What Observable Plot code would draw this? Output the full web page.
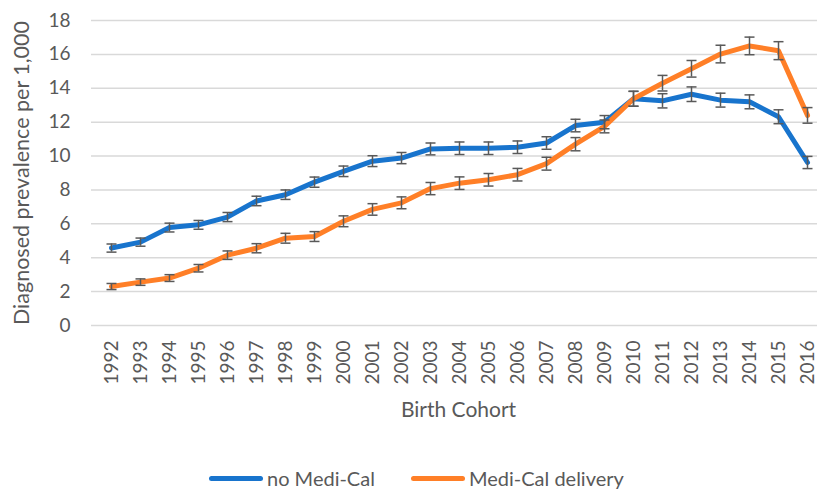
<!DOCTYPE html>
<html>
<head>
<meta charset="utf-8">
<script src="https://cdn.jsdelivr.net/npm/d3@7"></script>
<script src="https://cdn.jsdelivr.net/npm/@observablehq/plot@0.6"></script>
<style>
  html, body { margin: 0; padding: 0; background: #fff; overflow: hidden; }
  body { width: 817px; height: 490px; position: relative; font-family: Lato, "Open Sans", sans-serif; }
  #legend { position: absolute; left: 0; top: 463px; width: 817px; height: 27px; font-size: 20px; color: #595959; }
  .item { position: absolute; top: 0; display: flex; align-items: center; height: 30px; }
  .swatch { width: 54px; height: 5px; border-radius: 3px; margin-right: 4px; }
</style>
</head>
<body>
<div id="chart"></div>
<div id="legend"></div>
<script>
const years = ["1992","1993","1994","1995","1996","1997","1998","1999","2000","2001","2002","2003","2004","2005","2006","2007","2008","2009","2010","2011","2012","2013","2014","2015","2016"];
const seriesNames = ["no Medi-Cal", "Medi-Cal delivery"];
const noMediCal = [4.57, 4.92, 5.78, 5.94, 6.4, 7.35, 7.72, 8.46, 9.1, 9.7, 9.88, 10.42, 10.46, 10.46, 10.52, 10.77, 11.8, 12.0, 13.38, 13.26, 13.65, 13.3, 13.2, 12.32, 9.62];
const mediCal = [2.3, 2.56, 2.8, 3.38, 4.15, 4.56, 5.15, 5.25, 6.15, 6.85, 7.24, 8.08, 8.4, 8.6, 8.9, 9.55, 10.7, 11.75, 13.38, 14.3, 15.15, 16.02, 16.5, 16.22, 12.4];
const noMediCalErr = [0.24, 0.24, 0.26, 0.26, 0.27, 0.28, 0.28, 0.3, 0.31, 0.32, 0.33, 0.35, 0.37, 0.37, 0.37, 0.37, 0.37, 0.39, 0.44, 0.42, 0.43, 0.41, 0.41, 0.41, 0.36];
const mediCalErr = [0.18, 0.19, 0.2, 0.22, 0.25, 0.27, 0.29, 0.29, 0.32, 0.34, 0.35, 0.36, 0.37, 0.37, 0.37, 0.38, 0.39, 0.38, 0.44, 0.46, 0.49, 0.52, 0.52, 0.53, 0.46];
const yTicks = [0, 2, 4, 6, 8, 10, 12, 14, 16, 18];
const colors = ["#1874CD", "#FF7F27"];
const xTitle = "Birth Cohort";
const yTitle = "Diagnosed prevalence per 1,000";

const rows = [];
years.forEach((yr, i) => {
  rows.push({year: yr, series: seriesNames[0], value: noMediCal[i], lo: noMediCal[i] - noMediCalErr[i], hi: noMediCal[i] + noMediCalErr[i]});
  rows.push({year: yr, series: seriesNames[1], value: mediCal[i], lo: mediCal[i] - mediCalErr[i], hi: mediCal[i] + mediCalErr[i]});
});

const cap = {draw(ctx) { ctx.moveTo(-5, 0); ctx.lineTo(5, 0); }};

const chart = Plot.plot({
  width: 817,
  height: 455,
  marginLeft: 91,
  marginRight: 0,
  marginTop: 20,
  marginBottom: 130,
  style: {fontFamily: "Lato, 'Open Sans', sans-serif", color: "#595959", background: "#fff"},
  x: {type: "point", domain: years, range: [105, 813], padding: 0},
  y: {domain: [0, 18], ticks: yTicks},
  color: {domain: seriesNames, range: colors},
  marks: [
    Plot.ruleY(yTicks, {stroke: "#d9d9d9", strokeWidth: 1.5}),
    Plot.axisY({ticks: yTicks, tickSize: 0, tickPadding: 21, fontSize: 19, label: null}),
    Plot.axisX({tickSize: 0, tickPadding: 15, tickRotate: -90, fontSize: 19, label: null}),
    Plot.text([yTitle], {frameAnchor: "left", textAnchor: "middle", lineAnchor: "middle", rotate: -90, dx: -69, fontSize: 21.5, fill: "#595959"}),
    Plot.text([xTitle], {frameAnchor: "bottom", lineAnchor: "middle", dx: 4, dy: 85, fontSize: 21, fill: "#595959"}),
    Plot.line(rows, {x: "year", y: "value", z: "series", stroke: "series", strokeWidth: 5, strokeLinejoin: "round", strokeLinecap: "round"}),
    Plot.ruleX(rows, {x: "year", y1: "lo", y2: "hi", stroke: "#595959", strokeWidth: 1.5}),
    Plot.dot(rows, {x: "year", y: "lo", symbol: cap, fill: "none", stroke: "#595959", strokeWidth: 1.5}),
    Plot.dot(rows, {x: "year", y: "hi", symbol: cap, fill: "none", stroke: "#595959", strokeWidth: 1.5})
  ]
});
document.getElementById("chart").appendChild(chart);

const legend = document.getElementById("legend");
const lefts = [209, 411];
seriesNames.forEach((name, i) => {
  const item = document.createElement("div");
  item.className = "item";
  item.style.left = lefts[i] + "px";
  const sw = document.createElement("div");
  sw.className = "swatch";
  sw.style.background = colors[i];
  const tx = document.createElement("span");
  tx.textContent = name;
  item.appendChild(sw);
  item.appendChild(tx);
  legend.appendChild(item);
});
</script>
</body>
</html>
